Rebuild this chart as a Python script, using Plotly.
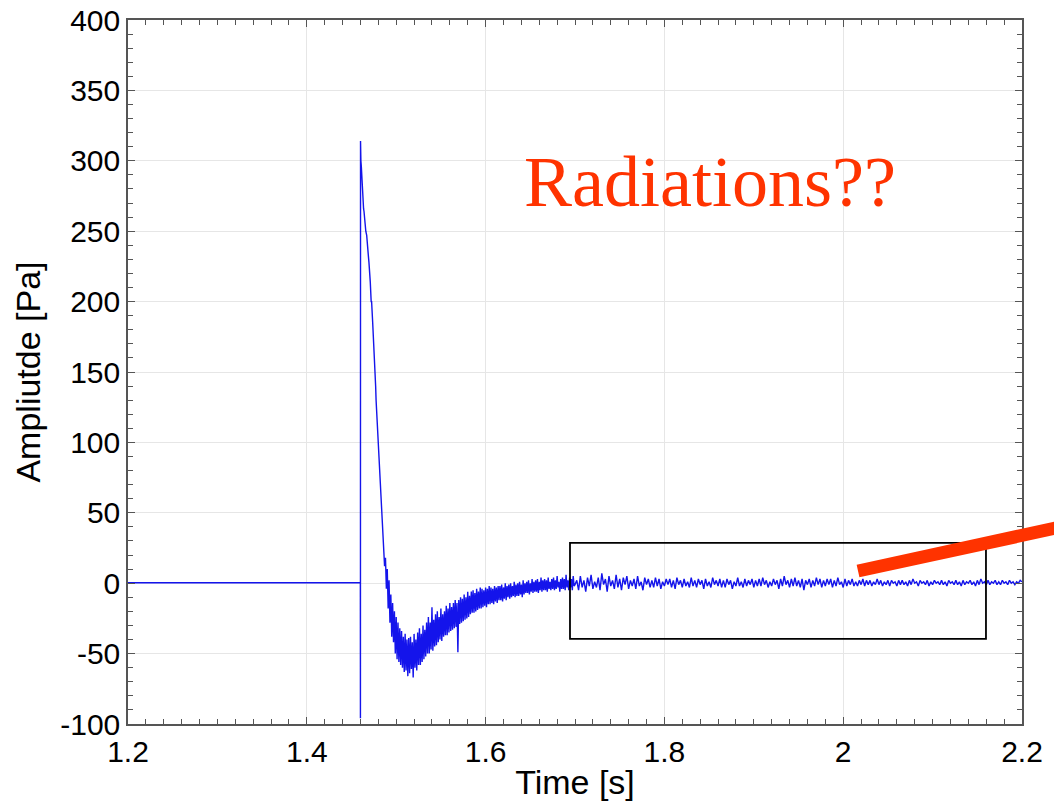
import plotly.graph_objects as go

# ---- data ----
# baseline, trigger spike and fast decay (time [s], amplitude [Pa])
decay_t = [1.2, 1.4599, 1.46, 1.4601, 1.4605, 1.4610, 1.4615, 1.4620, 1.4625,
           1.4630, 1.4635, 1.4640, 1.4650, 1.4655, 1.4660, 1.4670, 1.4675,
           1.4680, 1.4688, 1.4695, 1.4700, 1.4705, 1.4710, 1.4720, 1.4725,
           1.4737, 1.4745, 1.4750, 1.4760, 1.4770, 1.4775, 1.4790, 1.4800,
           1.4805, 1.4815, 1.4825, 1.4830, 1.4838]
decay_v = [0.3, 0.3, -96, 314, 300, 296, 287, 284, 276,
           272, 266, 264, 256, 258, 250, 247, 240,
           242, 233, 228, 224, 216, 214, 200, 200,
           185, 176, 170, 152, 140, 130, 112, 98,
           94, 76, 66, 54, 46]

# noisy undershoot, sampled every 1 ms from 1.486 s to 1.699 s
fast_t0 = 1.486
fast_dt = 0.001
fast_v = [
    26, 12, 18, -4, 10, -18, 2, -28, -8, -38,
    -14, -42, -20, -50, -24, -54, -28, -56, -32, -58,
    -34, -60, -38, -63, -36, -62, -40, -66, -39, -64,
    -38, -61, -42, -67, -36, -60, -40, -62, -35, -58,
    -32, -58, -36, -56, -30, -54, -33, -52, -28, -50,
    -24, -50, -28, -47, -17, -48, -26, -45, -22, -44,
    -20, -42, -24, -40, -18, -41, -22, -38, -20, -37,
    -16, -37, -18, -35, -14, -34, -17, -33, -14, -32,
    -12, -31, -14, -49, -12, -29, -10, -28, -11, -27,
    -8, -26, -10, -25, -6, -24, -9, -22, -6, -21,
    -5, -21, -7, -20, -4, -19, -6, -18, -3, -18,
    -4, -17, -5, -16, -3, -17, -4, -15, -2, -15,
    -3, -14, -4, -15, -2, -13, -3, -14, -2, -12,
    -2, -12, -1, -13, -3, -11, 0, -12, -2, -10,
    -1, -11, 0, -10, -2, -9, 1, -10, -1, -9,
    0, -9, 1, -8, -1, -10, 2, -8, 0, -7,
    1, -7, 2, -8, 0, -6, 3, -7, 1, -6,
    2, -6, 3, -7, 1, -5, 4, -6, 2, -5,
    3, -5, 2, -6, 4, -4, 1, -5, 3, -4,
    4, -5, 2, -4, 5, -3, 1, -6, 3, -4,
    4, -4, 3, -5, 6, -3, 2, -5, 4, -3,
    3, -5, 5, -2,
]

# residual fluctuations, sampled every 2 ms from 1.700 s to 2.200 s
slow_t0 = 1.700
slow_dt = 0.002
slow_v = [
    -1, 2, -5,
    5, -3, 2, -6, 4, -2, 6, -4, 1, -3,
    4, -5, 7, -1, 3, -6, 5, -2, 2, -4,
    6, -3, 3, -5, 4, -1, 5, -4, 2, -2,
    3, -4, 5, -2, 1, -5, 4, -1, 3, -3,
    2, -3, 4, -2, 3, -4, 1, -2, 3, -1,
    3, -3, 2, -4, 4, -1, 2, -3, 3, -2,
    1, -3, 4, -2, 2, -3, 3, -1, 2, -4,
    3, -2, 1, -3, 4, -1, 2, -2, 3, -3,
    2, -3, 3, -1, 2, -4, 1, -2, 4, -2,
    1, -3, 3, -2, 2, -1, 3, -3, 2, -2,
    3, -2, 4, -1, 2, -3, 1, -2, 3, -1,
    2, -4, 3, -2, 5, -1, 2, -3, 3, -2,
    4, -2, 2, -3, 3, -5, 2, -1, 3, -3,
    2, -2, 4, -1, 3, -3, 2, -2, 3, -1,
    3, -3, 2, -2, 4, -1, 1, -3, 3, -2,
    2, -1, 3, -2, 1, -2, 2, -1, 3, -2,
    2, -1, 2, -2, 1, -1, 3, -1, 2, -2,
    1, -1, 2, -2, 2, 0, 1, -2, 2, -1,
    2, -1, 1, -2, 2, -1, 3, 0, 1, -2,
    2, 0, 1, -1, 2, -2, 1, -1, 2, 0,
    1, -1, 2, -1, 1, -2, 2, 0, 1, -1,
    2, -1, 1, -2, 2, -1, 1, 0, 2, -1,
    1, -2, 2, -1, 3, 0, 1, -1, 2, -1,
    1, 0, 2, -1, 1, -1, 2, 0, 1, -1,
    2, 0, 1, -1, 1, 0, 2, 1,
]

x_ticks = [1.2, 1.4, 1.6, 1.8, 2.0, 2.2]
x_tick_labels = ["1.2", "1.4", "1.6", "1.8", "2", "2.2"]
y_ticks = [-100, -50, 0, 50, 100, 150, 200, 250, 300, 350, 400]
y_tick_labels = ["-100", "-50", "0", "50", "100", "150", "200", "250", "300", "350", "400"]

# highlighted window (time range, amplitude range)
box_t = [1.6944, 2.1597]
box_v = [-39.6, 28.6]

note_text = "Radiations??"
note_t, note_v = 1.851, 285

# ---- build ----
fast_t = [round(fast_t0 + fast_dt * i, 4) for i in range(len(fast_v))]
slow_t = [round(slow_t0 + slow_dt * i, 4) for i in range(len(slow_v))]
t_all = decay_t + fast_t + slow_t
v_all = decay_v + fast_v + slow_v

fig = go.Figure()
fig.add_trace(go.Scatter(x=t_all, y=v_all, mode="lines",
                         line=dict(color="rgb(20,20,235)", width=1.4),
                         showlegend=False, hoverinfo="skip"))

font_sans = "Liberation Sans, Arial, sans-serif"
axis_common = dict(
    showline=True, linecolor="#555555", linewidth=1.5, mirror="allticks",
    ticks="inside", ticklen=7, tickwidth=1.2, tickcolor="#555555",
    showgrid=True, gridcolor="#e6e6e6", gridwidth=1, zeroline=False,
    automargin=False,
    tickfont=dict(family=font_sans, size=30, color="black"),
)

fig.update_xaxes(range=[1.2, 2.2], tickvals=x_ticks, ticktext=x_tick_labels,
                 minor=dict(dtick=0.02, ticks="inside", ticklen=5, tickcolor="#555555",
                            showgrid=False),
                 title=dict(text="Time [s]", standoff=3,
                            font=dict(family=font_sans, size=34, color="black")),
                 **axis_common)
fig.update_yaxes(range=[-100, 400], tickvals=y_ticks, ticktext=y_tick_labels,
                 minor=dict(dtick=10, ticks="inside", ticklen=5, tickcolor="#555555",
                            showgrid=False),
                 title=dict(text="Ampliutde [Pa]", standoff=9,
                            font=dict(family=font_sans, size=34, color="black")),
                 **axis_common)

fig.add_shape(type="rect", xref="x", yref="y", x0=box_t[0], x1=box_t[1],
              y0=box_v[0], y1=box_v[1], line=dict(color="black", width=1.8))

fig.add_shape(type="line", xref="paper", yref="paper",
              x0=0.8166, y0=0.2173, x1=1.04, y1=0.279,
              line=dict(color="#ff3300", width=13), layer="above")

fig.add_annotation(x=note_t, y=note_v, xref="x", yref="y", text=note_text,
                   showarrow=False, xanchor="center", yanchor="middle",
                   font=dict(family="Liberation Serif, Times New Roman, serif",
                             size=72, color="#ff3300"))

fig.update_layout(width=1054, height=812,
                  margin=dict(l=128, r=32, t=20, b=88),
                  paper_bgcolor="white", plot_bgcolor="white")

fig.write_html("out.html")
